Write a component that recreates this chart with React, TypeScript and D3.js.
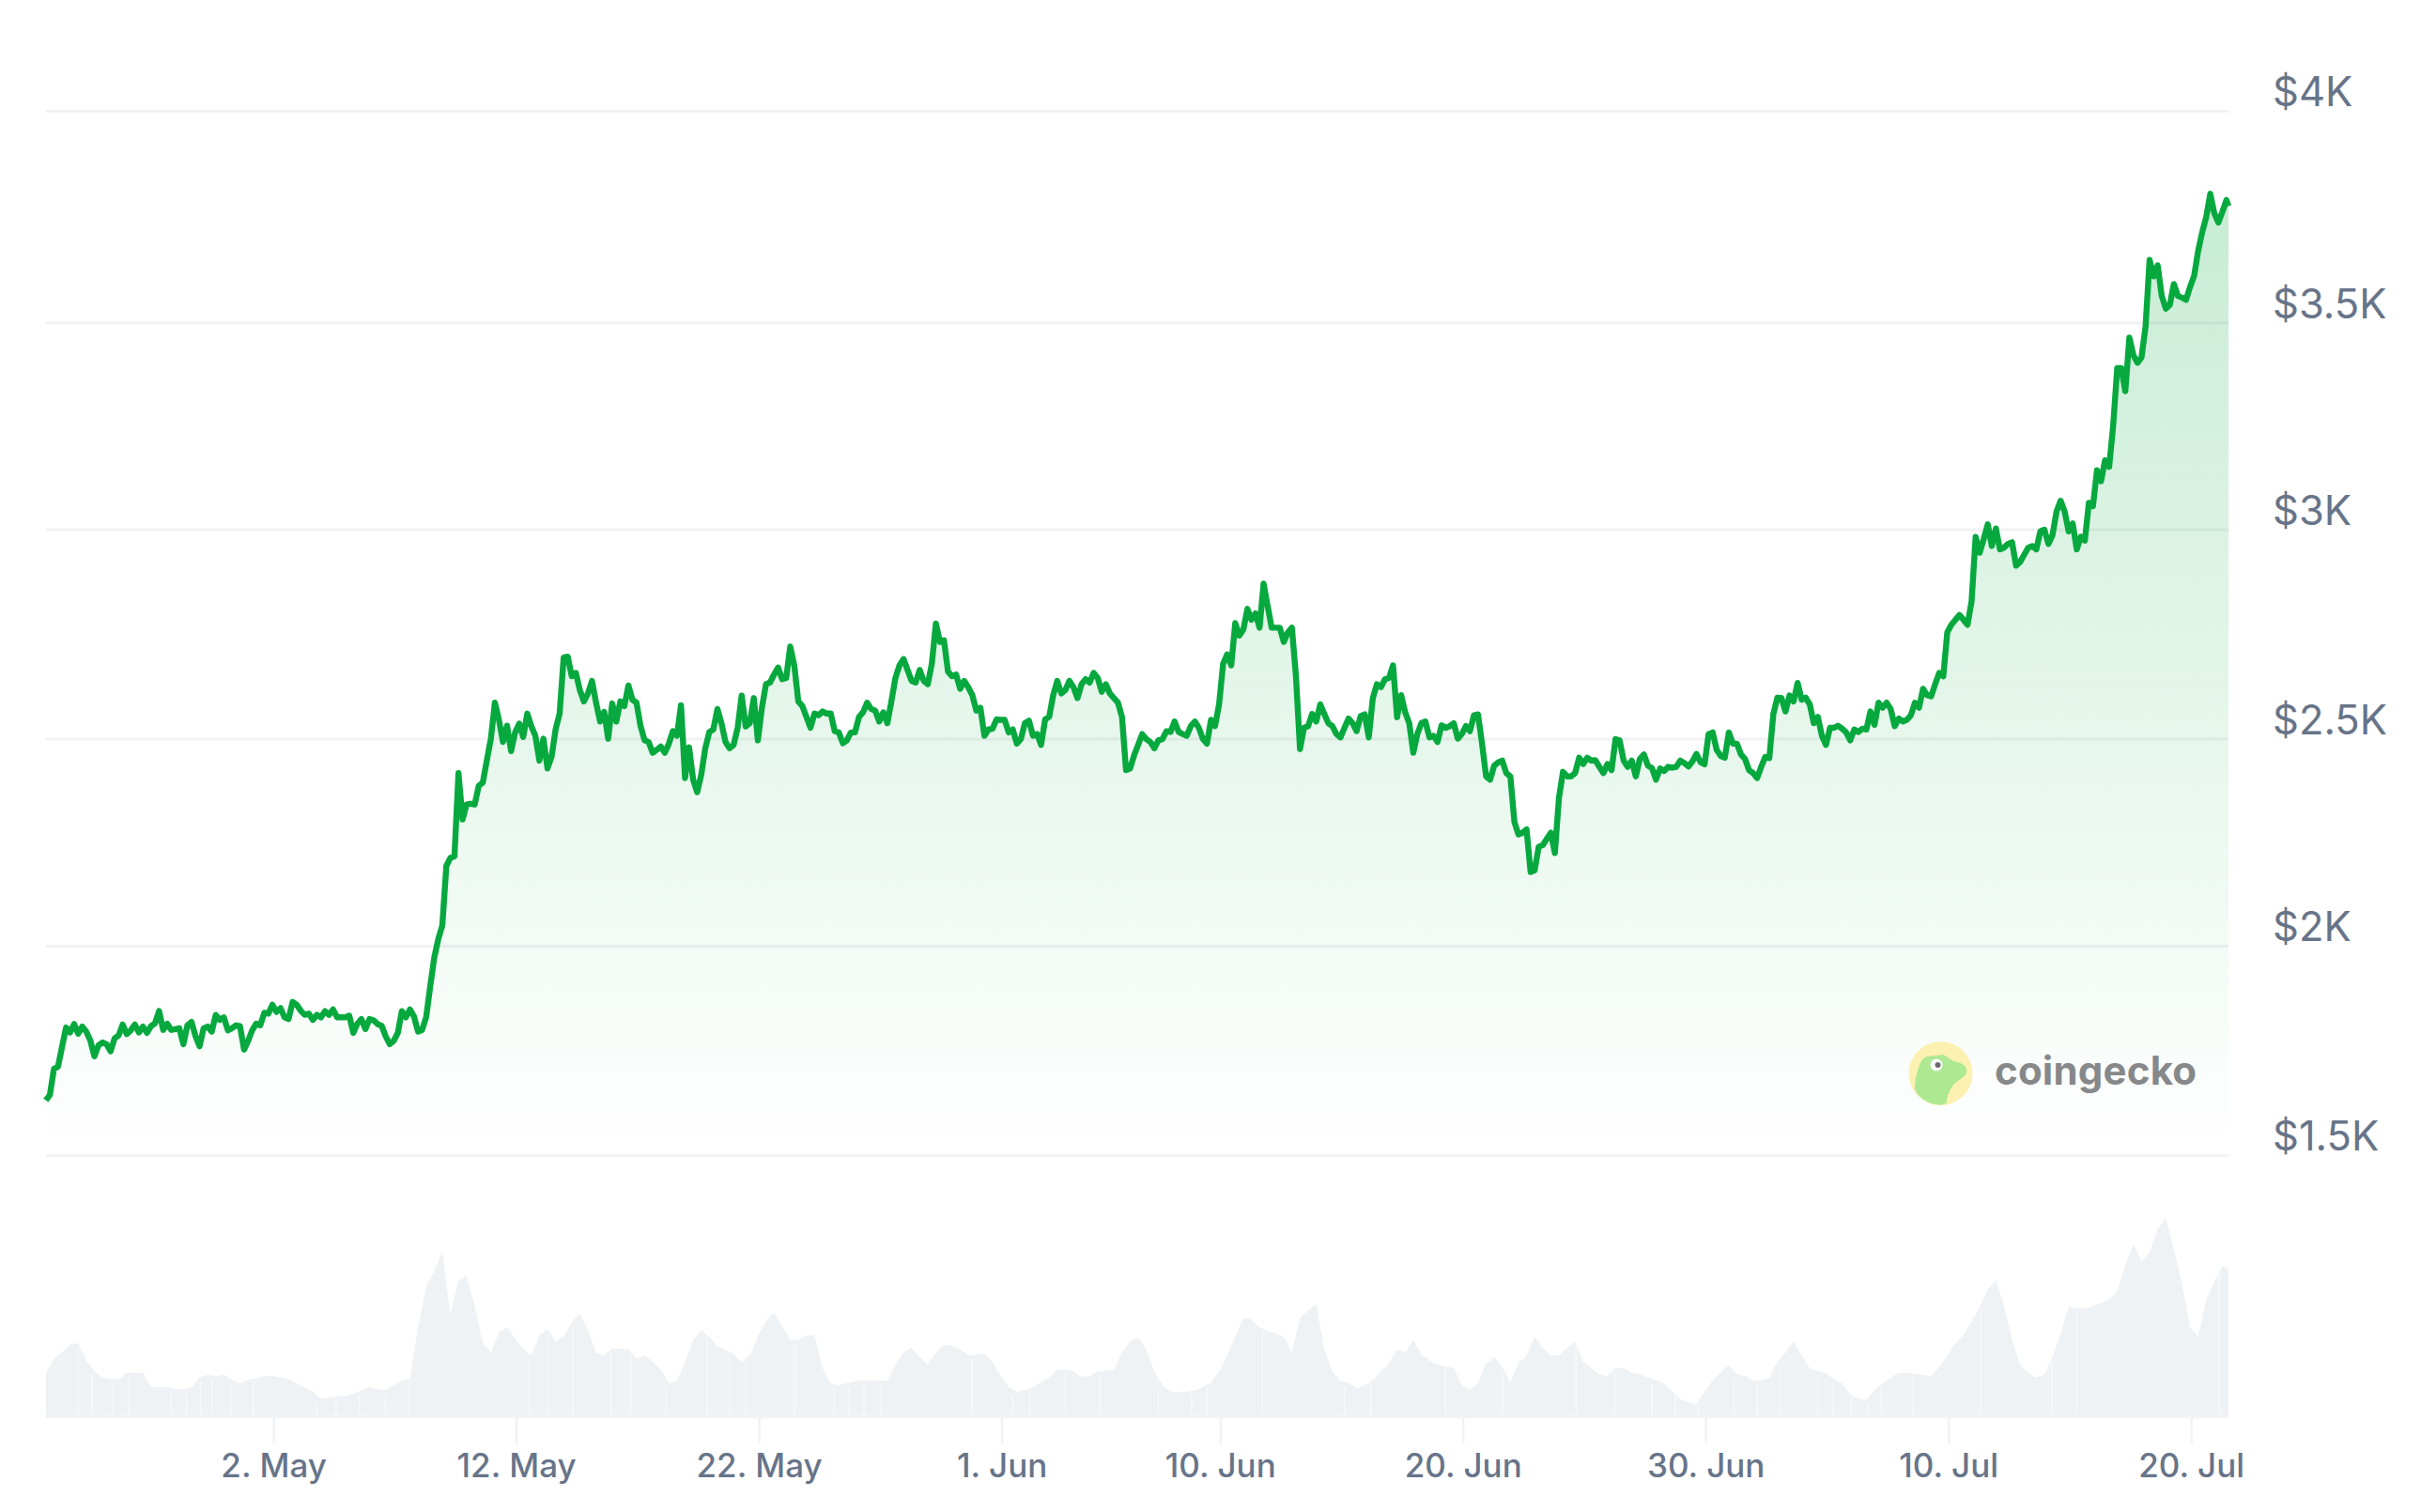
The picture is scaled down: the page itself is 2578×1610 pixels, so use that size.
import React from "react";
import * as d3 from "d3";

const W = 2578;
const H = 1610;

const yTickValues = [1500, 2000, 2500, 3000, 3500, 4000];
const yTickLabels = ["$1.5K", "$2K", "$2.5K", "$3K", "$3.5K", "$4K"];
const xTickDates = [
  [4, 2], [4, 12], [4, 22], [5, 1], [5, 10], [5, 20], [5, 30], [6, 10], [6, 20],
];

// price every 4 hours from the left edge of the chart, in USD
const priceValues = [
  1632,1645,1707,1712,1759,1806,1794,1814,1791,1808,1796,1775,1737,1763,1770,1766,1749,1780,1787,1813,
  1790,1799,1813,1794,1808,1793,1809,1816,1845,1800,1815,1800,1802,1804,1766,1811,1819,1785,1761,1804,
  1808,1796,1836,1824,1830,1799,1804,1811,1809,1753,1774,1799,1815,1811,1841,1839,1860,1843,1852,1830,
  1826,1867,1860,1846,1836,1839,1824,1836,1830,1845,1836,1849,1830,1830,1830,1834,1793,1815,1826,1802,
  1826,1823,1814,1810,1785,1766,1774,1793,1845,1830,1849,1832,1796,1800,1830,1903,1972,2017,2050,2194,
  2213,2217,2418,2306,2342,2344,2342,2387,2395,2448,2501,2587,2546,2493,2532,2471,2516,2537,2505,2561,
  2531,2508,2448,2501,2429,2457,2523,2561,2695,2697,2650,2658,2617,2590,2609,2639,2587,2542,2565,2501,
  2585,2542,2590,2579,2628,2594,2587,2531,2497,2493,2467,2474,2482,2467,2489,2519,2508,2581,2406,2480,
  2402,2372,2414,2478,2517,2523,2572,2538,2493,2478,2486,2527,2604,2530,2538,2598,2497,2575,2631,2635,
  2654,2671,2643,2646,2721,2676,2590,2579,2553,2527,2561,2557,2566,2561,2561,2519,2516,2490,2497,2516,
  2516,2553,2564,2587,2572,2568,2542,2564,2538,2590,2646,2676,2691,2665,2639,2635,2665,2639,2631,2680,
  2776,2732,2736,2661,2650,2654,2620,2639,2624,2605,2568,2575,2508,2523,2525,2547,2546,2546,2516,2523,
  2489,2500,2538,2544,2508,2512,2486,2547,2553,2605,2639,2609,2617,2639,2624,2598,2631,2643,2635,2658,
  2646,2613,2631,2609,2598,2587,2553,2425,2429,2461,2486,2512,2500,2493,2478,2497,2500,2519,2517,2542,
  2517,2512,2508,2531,2542,2527,2500,2489,2546,2531,2583,2680,2702,2676,2777,2747,2762,2811,2785,2800,
  2766,2871,2818,2766,2766,2766,2732,2755,2766,2650,2476,2527,2531,2560,2542,2583,2560,2538,2531,2512,
  2504,2527,2549,2538,2519,2555,2559,2504,2598,2631,2624,2643,2646,2676,2552,2605,2564,2538,2467,2512,
  2538,2542,2504,2508,2493,2533,2527,2531,2538,2501,2512,2531,2519,2557,2559,2489,2410,2402,2436,2444,
  2448,2418,2410,2300,2270,2274,2282,2179,2183,2240,2244,2259,2274,2225,2357,2421,2410,2410,2418,2455,
  2440,2455,2448,2449,2433,2418,2440,2425,2500,2497,2448,2433,2448,2410,2452,2463,2436,2430,2402,2429,
  2423,2433,2431,2433,2448,2442,2434,2446,2464,2444,2439,2512,2516,2474,2459,2455,2516,2489,2489,2463,
  2452,2425,2418,2406,2433,2457,2454,2560,2599,2598,2566,2604,2590,2634,2594,2599,2583,2538,2553,2508,
  2486,2527,2527,2532,2525,2516,2497,2523,2517,2525,2523,2566,2534,2587,2575,2587,2572,2531,2549,2542,
  2546,2557,2587,2575,2620,2605,2602,2631,2658,2650,2755,2773,2785,2796,2785,2773,2829,2983,2945,2978,
  3013,2961,3003,2953,2957,2966,2970,2914,2923,2940,2957,2961,2953,2996,3000,2966,2987,3044,3070,3044,
  2996,3015,2953,2983,2974,3065,3057,3144,3117,3168,3152,3252,3391,3391,3335,3465,3422,3404,3417,3491,
  3649,3610,3636,3564,3534,3543,3592,3564,3560,3555,3585,3611,3670,3714,3750,3805,3759,3737,3763,3790,
  3776,
];

// volume every 8 hours from the left edge, in billions
const volumeValues = [
  13,18,20,22.5,23,17.5,14,12,11.5,11.5,13.3,13.5,13.5,9,9,9,8.2,8.3,8.7,12,
  12.8,12.5,12.8,11.2,10,11.3,11.8,12.4,12.4,12,11.5,10,8.8,7.5,5.2,5.6,5.8,6.1,6.8,7.8,
  9,8.3,8,9.5,11,11.5,28,41,46,52.5,32,43,44.5,35,23,20,26.5,28,24.5,21,
  19,25.5,27.5,23.5,25,29.5,32.5,27,20,19,21.2,21.2,21,18,19,17,14.5,10.2,10.8,17,
  24,27,25,22,20.8,19.5,17,19,25,30,32.8,28.5,24,24,25.5,25.5,15,10,9.5,10.2,
  10.8,11,11,11,11,16,20,21.5,18.5,16,20,22.5,22.2,21,19,19.3,19.5,17,12.5,9,
  7.5,8,8.8,10.5,12,14.5,14.5,14,12,12.5,14,14.2,14.3,20,23.5,24.8,21,14,9.5,7.5,
  7.3,7.5,7.8,9,10.3,14,19,25,31,30.5,28,26.8,26,25,20,31,33.5,35.5,21,14,
  10.8,10.5,8.5,9.5,11,14,16.5,21,20,24,19.5,17.5,16.2,15.5,15,9.5,8,10.2,16.5,18.5,
  15.5,10.5,16.8,18.8,25,21.5,19,19.2,21.5,23.3,17,15,13,12.5,15,15,13.5,13,12,11.2,
  10,7.5,5,4,3.5,7.5,11,13.5,16,13,12.5,11,11,12,17,20,23.5,19,14.8,14,
  13.3,11.5,10,6.5,5.2,5,8,10,12,13.5,13.5,13.2,12.8,12.5,15.5,19,23,25.5,30,34.5,
  40,43.2,35,24,16,13.5,12,13,18.5,26,34.5,34,34,34.7,35.8,37,39.5,48,54.5,49,
  52,59.5,63,53,42,28,25,37,42.5,47.5,46.5,
];

// hours after the left edge where the volume columns show a hairline gap
const volumeGapHours = [
  32,46,66,82,124,139,153,164,183,205,268,287,310,336,359,478,497,521,559,578,613,654,676,692,740,
  779,794,809,826,916,956,973,1008,1042,1100,1133,1148,1203,1284,1310,1384,1440,1513,1551,1588,
  1611,1634,1669,1692,1715,1752,1767,1785,1802,1815,1846,1913,1983,2008,2149,
];

const HOUR = 3600 * 1000;
const startTime = Date.UTC(2025, 3, 22, 15);
const endTime = Date.UTC(2025, 6, 21, 13);

export default function App() {
  const ref = React.useRef<SVGSVGElement | null>(null);

  React.useEffect(() => {
    if (!ref.current) return;
    const svg = d3.select(ref.current);
    svg.selectAll("*").remove();

    const left = 48.8;
    const right = 2373;
    const x = d3.scaleUtc().domain([startTime, endTime]).range([left, right]);
    const y = d3
      .scaleLinear()
      .domain(yTickValues)
      .range([1230.5, 1007.5, 787, 564, 344, 118.3]);
    const yVol = d3.scaleLinear().domain([0, 63]).range([1506.7, 1296.7]);

    const timeOf = (i: number, step: number) =>
      Math.min(startTime + i * step * HOUR, endTime);

    const defs = svg.append("defs");
    const grad = defs
      .append("linearGradient")
      .attr("id", "priceFill")
      .attr("gradientUnits", "userSpaceOnUse")
      .attr("x1", 0)
      .attr("x2", 0)
      .attr("y1", 205)
      .attr("y2", y(1500));
    grad.append("stop").attr("offset", 0).attr("stop-color", "#00a83e").attr("stop-opacity", 0.22);
    grad.append("stop").attr("offset", 1).attr("stop-color", "#00a83e").attr("stop-opacity", 0);

    // volume
    const volArea = d3
      .area<number>()
      .x((_, i) => x(timeOf(i, 8)))
      .y0(yVol(0))
      .y1(d => yVol(d));
    svg.append("path").attr("d", volArea(volumeValues)).attr("fill", "#eff2f5");
    svg
      .append("g")
      .selectAll("line")
      .data(volumeGapHours)
      .join("line")
      .attr("x1", d => x(startTime + d * HOUR))
      .attr("x2", d => x(startTime + d * HOUR))
      .attr("y1", yVol(0))
      .attr("y2", d => yVol(volumeValues[Math.round(d / 8)]) + 4)
      .attr("stroke", "#ffffff")
      .attr("stroke-opacity", 0.55)
      .attr("stroke-width", 1.3);
    svg
      .append("line")
      .attr("x1", left)
      .attr("x2", right)
      .attr("y1", 1508.5)
      .attr("y2", 1508.5)
      .attr("stroke", "#f2f3f7")
      .attr("stroke-width", 3.5);

    // price area, grid on top of it
    const area = d3
      .area<number>()
      .x((_, i) => x(timeOf(i, 4)))
      .y0(y(1500))
      .y1(d => y(d));
    svg.append("path").attr("d", area(priceValues)).attr("fill", "url(#priceFill)");

    svg
      .append("g")
      .selectAll("line")
      .data(yTickValues)
      .join("line")
      .attr("x1", left)
      .attr("x2", right)
      .attr("y1", d => y(d))
      .attr("y2", d => y(d))
      .attr("stroke", "#1e2a5a")
      .attr("stroke-opacity", 0.06)
      .attr("stroke-width", 2.8);

    // watermark
    const logo = svg.append("g");
    logo.append("ellipse").attr("cx", 2066.5).attr("cy", 1143).attr("rx", 34).attr("ry", 34).attr("fill", "#fdf1b2");
    logo
      .append("path")
      .attr(
        "d",
        "M2039 1160 C2039 1150 2041 1143 2043 1137 C2045 1130 2048 1126 2052.5 1125 L2069.6 1123 L2080 1130 C2086 1131 2091 1133 2093.6 1136.7 C2095 1140 2094 1143 2092.5 1145 C2087 1150 2082 1152 2079 1156.7 C2075 1162 2073 1168 2072.7 1175 L2066 1176.7 C2056 1176.5 2043 1170 2039 1160 Z",
      )
      .attr("fill", "#ade893");
    logo.append("circle").attr("cx", 2062).attr("cy", 1134).attr("r", 6.5).attr("fill", "#ffffff");
    logo.append("circle").attr("cx", 2063.5).attr("cy", 1134).attr("r", 3).attr("fill", "#6b6b6b");
    logo
      .append("text")
      .attr("x", 2124)
      .attr("y", 1155)
      .attr("font-family", "Inter")
      .attr("font-weight", 700)
      .attr("font-size", 42)
      .attr("letter-spacing", 0.2)
      .attr("fill", "#86888a")
      .text("coingecko");

    // price line
    const line = d3
      .line<number>()
      .x((_, i) => x(timeOf(i, 4)))
      .y(d => y(d));
    svg
      .append("path")
      .attr("d", line(priceValues))
      .attr("fill", "none")
      .attr("stroke", "#07a93f")
      .attr("stroke-width", 6.4)
      .attr("stroke-linejoin", "round")
      .attr("stroke-linecap", "butt");

    // y labels
    svg
      .append("g")
      .selectAll("text")
      .data(yTickValues)
      .join("text")
      .attr("x", 2420)
      .attr("y", d => y(d) - 5.5)
      .attr("font-family", "Inter")
      .attr("font-size", 43.5)
      .attr("fill", "#677489")
      .text((_, i) => yTickLabels[i]);

    // x axis
    const xTicks = xTickDates.map(([m, d]) => new Date(Date.UTC(2025, m, d)));
    const axis = svg
      .append("g")
      .attr("transform", "translate(0,1510)")
      .call(
        d3
          .axisBottom(x)
          .tickValues(xTicks)
          .tickSize(27)
          .tickPadding(11)
          .tickFormat(d => d3.utcFormat("%-d. %b")(d as Date)),
      );
    axis.select(".domain").remove();
    axis.selectAll(".tick line").attr("stroke", "#eff1f5").attr("stroke-width", 2.2);
    axis
      .selectAll(".tick text")
      .attr("font-family", "Inter")
      .attr("font-size", 35)
      .attr("font-weight", 500)
      .attr("fill", "#677489");
  }, []);

  return (
    <svg
      ref={ref}
      width={W}
      height={H}
      viewBox={`0 0 ${W} ${H}`}
      style={{ position: "absolute", left: 0, top: 0, background: "#ffffff" }}
    ></svg>
  );
}
